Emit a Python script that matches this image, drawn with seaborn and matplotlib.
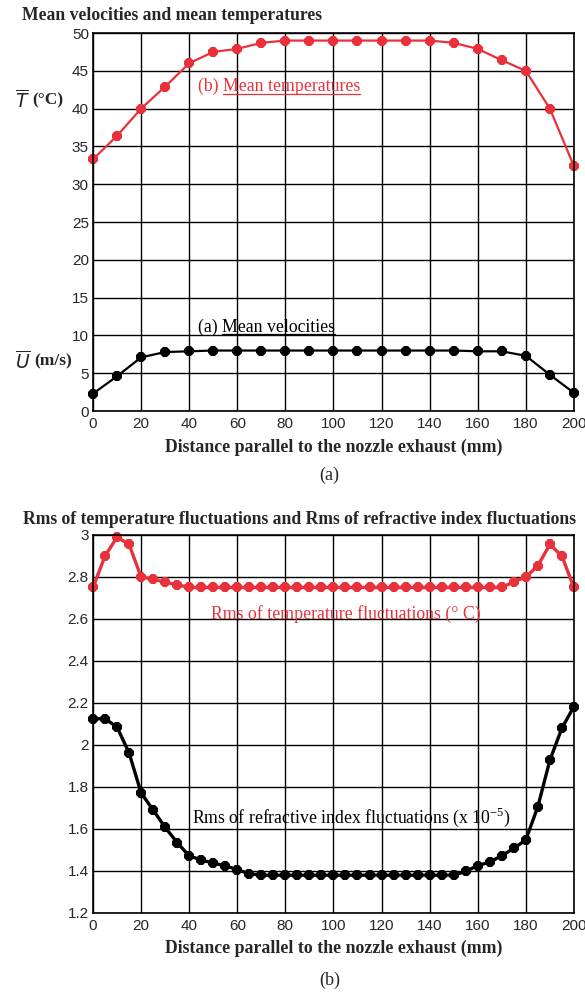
import numpy as np
import pandas as pd
import matplotlib
matplotlib.use("Agg")
import matplotlib.pyplot as plt
import seaborn as sns

RED = '#e8313a'

# (a) mean velocities / temperatures, every 10 mm
dist_a = list(range(0, 201, 10))
mean_temp = [33.3, 36.4, 40.0, 42.9, 46.0, 47.5, 47.9, 48.7, 49.0, 49.0, 49.0,
             49.0, 49.0, 49.0, 49.0, 48.7, 47.9, 46.4, 45.0, 40.0, 32.4]
mean_vel = [2.3, 4.6, 7.1, 7.8, 7.9, 8.0, 8.0, 8.0, 8.0, 8.0, 8.0,
            8.0, 8.0, 8.0, 8.0, 8.0, 7.9, 7.9, 7.3, 4.8, 2.4]

# (b) rms values, every 5 mm
dist_b = list(range(0, 201, 5))
rms_temp = [2.75, 2.90, 2.99, 2.955, 2.80, 2.79, 2.774, 2.763] + [2.75] * 27 + \
           [2.777, 2.80, 2.853, 2.955, 2.90, 2.75]
rms_index = [2.125, 2.125, 2.085, 1.962, 1.772, 1.69, 1.608, 1.535, 1.472, 1.453,
             1.437, 1.425, 1.406, 1.387, 1.38] + [1.38] * 16 + \
            [1.398, 1.426, 1.442, 1.473, 1.508, 1.548, 1.706, 1.927, 2.08, 2.183]

df_a = pd.DataFrame({'dist': dist_a, 'T': mean_temp, 'U': mean_vel})
df_b = pd.DataFrame({'dist': dist_b, 'rmsT': rms_temp, 'rmsN': rms_index})

sns.set_style("white")
plt.rcParams['font.family'] = ['Liberation Sans', 'DejaVu Sans']
SERIF = ['Liberation Serif', 'DejaVu Serif']

fig = plt.figure(figsize=(5.85, 9.94), dpi=100)
ax1 = fig.add_axes([0.159, 0.5865, 0.822, 0.3803])
ax2 = fig.add_axes([0.159, 0.0815, 0.822, 0.3803])

line_kw = dict(marker='8', markersize=7.5, markeredgewidth=0, linewidth=1.6, clip_on=False)
sns.lineplot(data=df_a, x='dist', y='T', color=RED, ax=ax1, **line_kw)
sns.lineplot(data=df_a, x='dist', y='U', color='black', ax=ax1, **line_kw)
line_kw2 = dict(marker='8', markersize=7.5, markeredgewidth=0, linewidth=2.4, clip_on=False)
sns.lineplot(data=df_b, x='dist', y='rmsT', color=RED, ax=ax2, **line_kw2)
sns.lineplot(data=df_b, x='dist', y='rmsN', color='black', ax=ax2, **line_kw2)

for ax in (ax1, ax2):
    ax.set_xlim(0, 200)
    ax.set_xticks(range(0, 201, 20))
    ax.grid(True, color='black', linewidth=1.0)
    ax.set_axisbelow(True)
    for s in ax.spines.values():
        s.set_color('black')
        s.set_linewidth(1.2)
    ax.tick_params(labelsize=11, length=0)
    ax.tick_params(axis='x', pad=4.5)
    ax.tick_params(axis='y', pad=3)
    ax.set_ylabel('')
    ax.set_xlabel('Distance parallel to the nozzle exhaust (mm)', family=SERIF,
                  fontweight='bold', fontsize=12.8, labelpad=5)

ax1.set_ylim(0, 50)
ax1.set_yticks(range(0, 51, 5))
ax2.set_ylim(1.2, 3.0)
ax2.set_yticks(np.arange(1.2, 3.01, 0.2))
ax2.set_yticklabels(['1.2', '1.4', '1.6', '1.8', '2', '2.2', '2.4', '2.6', '2.8', '3'])

fig.text(0.038, 0.984, 'Mean velocities and mean temperatures', family=SERIF,
         fontweight='bold', fontsize=12.7, va='center')
fig.text(0.040, 0.477, 'Rms of temperature fluctuations and Rms of refractive index fluctuations',
         family=SERIF, fontweight='bold', fontsize=12.7, va='center')
fig.text(0.563, 0.522, '(a)', family=SERIF, fontsize=13, ha='center', va='center')
fig.text(0.563, 0.014, '(b)', family=SERIF, fontsize=13, ha='center', va='center')

fig.text(0.025, 0.899, r'$\overline{T}$', family=SERIF, fontsize=13.5, va='center')
fig.text(0.055, 0.899, '(°C)', family=SERIF, fontweight='bold', fontsize=12.5, va='center')
fig.text(0.025, 0.636, r'$\overline{U}$', family=SERIF, fontsize=13.5, va='center')
fig.text(0.058, 0.636, '(m/s)', family=SERIF, fontweight='bold', fontsize=12.5, va='center')


def underlined(ax, x, y, prefix, word, color):
    t1 = ax.text(x, y, prefix, family=SERIF, fontsize=12.8, color=color, va='baseline')
    fig.canvas.draw()
    bb = t1.get_window_extent()
    x2 = ax.transData.inverted().transform((bb.x1, bb.y0))[0]
    t2 = ax.text(x2, y, word, family=SERIF, fontsize=12.8, color=color, va='baseline')
    fig.canvas.draw()
    bb2 = t2.get_window_extent()
    inv = fig.transFigure.inverted()
    p0 = inv.transform((bb2.x0, bb2.y0 + 1.5))
    p1 = inv.transform((bb2.x1, bb2.y0 + 1.5))
    fig.add_artist(plt.Line2D([p0[0], p1[0]], [p0[1], p1[1]], color=color, linewidth=0.9))


underlined(ax1, 43.5, 42.3, '(b) ', 'Mean temperatures', RED)
underlined(ax1, 43.5, 10.5, '(a) ', 'Mean velocities', 'black')

ax2.text(49, 2.60, 'Rms of temperature fluctuations (° C)', family=SERIF,
         fontsize=12.8, color=RED, va='baseline')
ax2.text(41, 1.63, r'Rms of refractive index fluctuations (x 10$^{\mathregular{-5}}$)',
         family=SERIF, fontsize=12.8, color='black', va='baseline')

fig.savefig('out.png', dpi=100)
